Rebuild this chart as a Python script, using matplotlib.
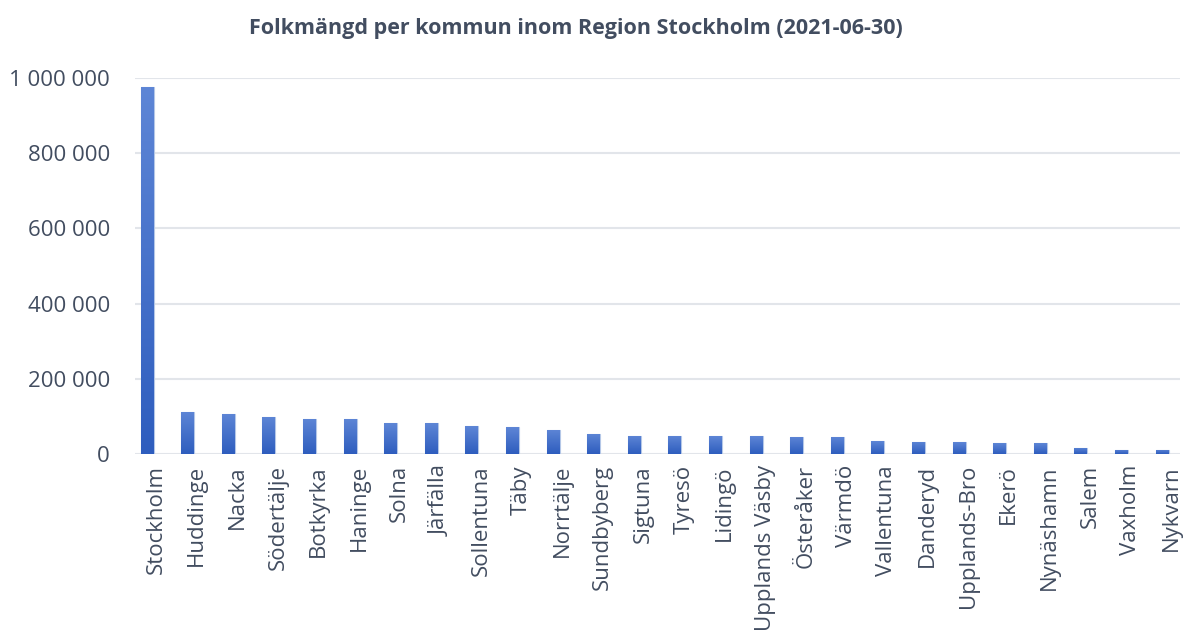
import matplotlib
matplotlib.use("Agg")
import matplotlib.pyplot as plt
import matplotlib.transforms as mtransforms
import numpy as np
from matplotlib.colors import LinearSegmentedColormap
from matplotlib.ticker import FuncFormatter

kommuner = ["Stockholm", "Huddinge", "Nacka", "Södertälje", "Botkyrka", "Haninge",
            "Solna", "Järfälla", "Sollentuna", "Täby", "Norrtälje", "Sundbyberg",
            "Sigtuna", "Tyresö", "Lidingö", "Upplands Väsby", "Österåker", "Värmdö",
            "Vallentuna", "Danderyd", "Upplands-Bro", "Ekerö", "Nynäshamn", "Salem",
            "Vaxholm", "Nykvarn"]
folkmangd = [976000, 112000, 107000, 99000, 94000, 94000,
             82000, 81000, 74000, 71000, 64000, 54000,
             49000, 49000, 47000, 47000, 46000, 46000,
             34000, 32000, 31000, 29000, 29000, 16000,
             11000, 11000]
yticks = [0, 200000, 400000, 600000, 800000, 1000000]
title = "Folkmängd per kommun inom Region Stockholm (2021-06-30)"

plt.rcParams['font.family'] = ['Open Sans', 'DejaVu Sans']
text_col = "#424D60"

fig = plt.figure(figsize=(11.84, 6.34), dpi=100)
ax = fig.add_axes([0.114, 0.284, 0.883, 0.593])

x = np.arange(len(kommuner))
bars = ax.bar(x, folkmangd, width=0.32, color="#4472C4", edgecolor="#B4C7E7",
              linewidth=0.8, zorder=2)

cmap = LinearSegmentedColormap.from_list("g", ["#2E5DBE", "#5E86D6"])
grad = np.linspace(0, 1, 256).reshape(-1, 1)
for b in bars:
    bb = b.get_bbox()
    im = ax.imshow(grad, cmap=cmap, origin="lower", aspect="auto",
                   extent=[bb.x0, bb.x1, bb.y0, bb.y1], zorder=2.5)
    im.set_clip_path(b)

ax.set_xlim(-0.3, len(kommuner) - 0.55)
ax.set_ylim(0, 1000000)
ax.set_yticks(yticks)
ax.yaxis.set_major_formatter(FuncFormatter(lambda v, p: f"{int(v):,}".replace(",", " ")))
ax.set_xticks(x)
ax.set_xticklabels(kommuner, rotation=90, fontsize=16, color=text_col)
ax.tick_params(axis="y", labelsize=16, colors=text_col, length=0, pad=18)
ax.tick_params(axis="x", length=0, pad=8)
shift = mtransforms.ScaledTranslation(9 / 100, 0, fig.dpi_scale_trans)
for lab in ax.get_xticklabels():
    lab.set_transform(lab.get_transform() + shift)
for s in ax.spines.values():
    s.set_visible(False)
ax.grid(axis="y", color="#E2E5EA", linewidth=1.5, zorder=0)
ax.set_axisbelow(True)

fig.text(0.486, 0.955, title, ha="center", va="center", fontsize=15.5,
         fontweight="bold", color=text_col)

fig.savefig("out.png", dpi=100)
